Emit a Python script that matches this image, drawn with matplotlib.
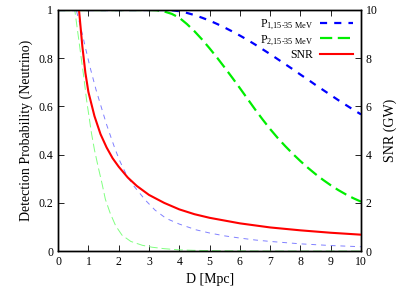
import matplotlib
matplotlib.use('Agg')
import matplotlib.pyplot as plt
from matplotlib.ticker import FormatStrFormatter

plt.rcParams['font.family'] = ['Liberation Serif', 'DejaVu Serif']
plt.rcParams['mathtext.fontset'] = 'custom'
plt.rcParams['mathtext.rm'] = 'Liberation Serif'
plt.rcParams['mathtext.it'] = 'Liberation Serif:italic'

# thick curves (legend): detection probability vs distance
d_p1 = [0, 1, 2, 3, 3.5, 3.75, 4.0, 4.25, 4.5, 4.75, 5.0, 5.25, 5.5, 5.75, 6.0, 6.25, 6.5,
        6.75, 7.0, 7.25, 7.5, 7.75, 8.0, 8.25, 8.5, 8.75, 9.0, 9.25, 9.5, 9.75, 10.0]
p1 = [1, 1, 1, 1, 1.0, 0.999, 0.995, 0.988, 0.979, 0.968, 0.956, 0.942, 0.927, 0.911, 0.894,
      0.876, 0.857, 0.837, 0.817, 0.796, 0.775, 0.754, 0.732, 0.711, 0.689, 0.668, 0.647,
      0.626, 0.606, 0.586, 0.567]

d_p2 = [0, 1, 2, 3.0, 3.25, 3.5, 3.75, 4.0, 4.25, 4.5, 4.75, 5.0, 5.25, 5.5, 5.75, 6.0, 6.25,
        6.5, 6.75, 7.0, 7.25, 7.5, 7.75, 8.0, 8.25, 8.5, 8.75, 9.0, 9.25, 9.5, 9.75, 10.0]
p2 = [1, 1, 1, 1.0, 0.999, 0.994, 0.984, 0.968, 0.942, 0.912, 0.878, 0.841, 0.802, 0.761,
      0.719, 0.676, 0.632, 0.588, 0.546, 0.506, 0.469, 0.435, 0.403, 0.373, 0.345, 0.319,
      0.295, 0.273, 0.253, 0.235, 0.219, 0.205]

# SNR of the GW signal (right axis)
d_snr = [0.69, 0.8, 0.9, 1.0, 1.2, 1.4, 1.6, 1.8, 2.0, 2.3, 2.6, 3.0, 3.5, 4.0, 4.5, 5.0,
         6.0, 7.0, 8.0, 9.0, 10.0]
snr = [10, 8.5, 7.4, 6.6, 5.6, 4.85, 4.3, 3.85, 3.5, 3.05, 2.7, 2.33, 2.0, 1.73, 1.53, 1.38,
       1.15, 0.98, 0.86, 0.76, 0.68]

# thin curves (no legend entry)
d_thin1 = [0, 0.6, 0.7, 0.8, 0.9, 1.05, 1.25, 1.43, 1.6, 1.75, 1.89, 2.05, 2.28, 2.5, 2.89,
           3.2, 3.56, 4.0, 4.56, 5.0, 5.5, 6.0, 6.5, 7.0, 8.0, 9.0, 10.0]
thin1 = [1, 1.0, 0.95, 0.9, 0.845, 0.765, 0.67, 0.595, 0.525, 0.47, 0.42, 0.37, 0.31, 0.27,
         0.21, 0.17, 0.136, 0.112, 0.088, 0.075, 0.063, 0.054, 0.046, 0.04, 0.03, 0.023, 0.018]

d_thin2 = [0, 0.55, 0.7, 0.85, 0.94, 1.1, 1.2, 1.33, 1.45, 1.56, 1.72, 1.9, 2.11, 2.4, 2.78,
           3.1, 3.5, 4.0, 4.5, 5.5, 7.0, 10.0]
thin2 = [1, 1.0, 0.86, 0.72, 0.627, 0.49, 0.42, 0.345, 0.28, 0.215, 0.157, 0.105, 0.066,
         0.04, 0.024, 0.016, 0.01, 0.005, 0.003, 0.001, 0.0, 0.0]

labels = [r'P$_{\text{1,15-35 MeV}}$', r'P$_{\text{2,15-35 MeV}}$', 'SNR']

fig, ax = plt.subplots(figsize=(4.15, 2.94), dpi=100)
fig.subplots_adjust(left=0.14, right=0.87, top=0.966, bottom=0.146)

ax.plot(d_thin1, thin1, color='#8080ff', lw=0.7, dashes=(5, 5))
ax.plot(d_thin2, thin2, color='#80ff80', lw=0.7, dashes=(9, 4))
l1, = ax.plot(d_p1, p1, color='#0000ff', lw=1.6, dashes=(3.2, 3.2), label=labels[0])
l2, = ax.plot(d_p2, p2, color='#00ee00', lw=1.6, dashes=(5.5, 2.5), label=labels[1])

ax2 = ax.twinx()
l3, = ax2.plot(d_snr, snr, color='#ff0000', lw=1.5, label=labels[2])

ax.set_xlim(0, 10)
ax.set_ylim(0, 1)
ax2.set_ylim(0, 10)
ax.set_xticks(range(0, 11))
ax.set_yticks([0, 0.2, 0.4, 0.6, 0.8, 1])
ax.yaxis.set_major_formatter(FormatStrFormatter('%g'))
ax2.set_yticks(range(0, 11, 2))

ax.tick_params(direction='in', top=True, labelsize=8.5, length=4, width=0.6)
ax2.tick_params(direction='in', labelsize=8.5, length=4, width=0.6)
for a in (ax, ax2):
    for s in a.spines.values():
        s.set_linewidth(1.0)

ax.set_xlabel('D [Mpc]', fontsize=10)
ax.set_ylabel('Detection Probability (Neutrino)', fontsize=10)
ax2.set_ylabel('SNR (GW)', fontsize=10)

leg = ax2.legend(handles=[l1, l2, l3], loc='upper right', frameon=False,
                 markerfirst=False, fontsize=8.5, handlelength=2.8,
                 labelspacing=0.1, borderaxespad=0.3, handletextpad=0.6)

fig.savefig('out.png', dpi=100)
